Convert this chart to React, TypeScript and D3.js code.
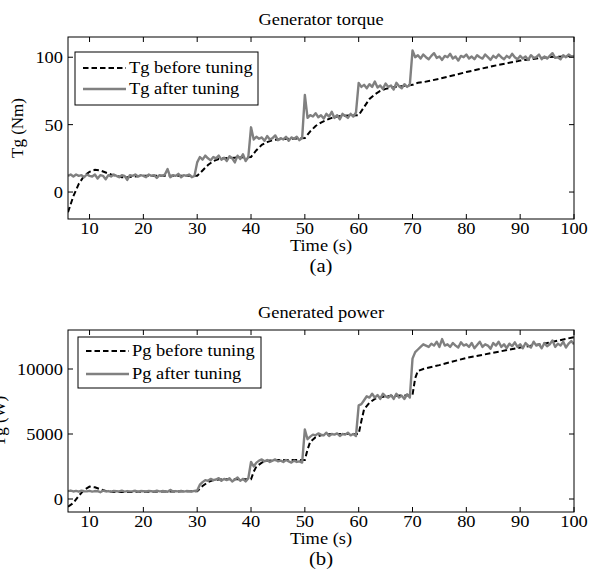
import React from "react";
import * as d3 from "d3";

// time breaks where the set-point changes (s)
const timeBreaks = [6, 30, 40, 50, 60, 70, 100];
const xTicks = [10, 20, 30, 40, 50, 60, 70, 80, 90, 100];

// ---- Generator torque (Nm) ----
const tgBeforeTime = [6, 7, 8, 9, 10, 11, 12, 13, 14, 15, 16, 17, 20, 25, 30, 31, 32, 33, 34, 35, 37, 40, 41, 42, 43, 44, 45, 47, 50, 51, 52, 53, 54, 55, 56, 57, 60, 61, 62, 63, 64, 65, 66, 67, 70, 71, 72, 75, 80, 85, 90, 95, 100];
const tgBeforeValue = [-15, -3, 6, 12, 15, 16.5, 16, 14.5, 13, 12, 11, 11, 12, 12, 12, 16, 20, 23, 24.5, 25, 25.5, 26, 31, 35, 37, 38.5, 39, 39.5, 40, 45, 49, 51.5, 53.5, 55, 56, 56.5, 57, 63, 69, 72.5, 75, 76.5, 77.5, 78, 79.5, 81, 81.5, 84, 89, 93.5, 97.5, 100, 101];

// after tuning, one list per set-point segment (0.5 s apart)
const tgAfter = [
  [12, 13, 11.5, 13, 12, 12.5, 11, 13, 12, 11.5, 13, 10, 12.5, 12, 9.5, 12.5, 11.5, 13, 12, 11, 12.5, 12, 9, 12.5, 12, 13, 11.5, 12.5, 12, 11, 13, 12, 12.5, 10.5, 12.5, 12, 13, 17, 11, 12.5, 12, 13.5, 11, 12.5, 12, 13, 11, 12],
  [22, 26, 24, 27, 25, 23.5, 26, 25, 27, 24, 25.5, 23, 26.5, 25, 22, 27, 24.5, 28, 23, 26],
  [48, 39, 41, 39.5, 40.5, 38, 41.5, 39, 40, 42, 38.5, 40, 39, 41, 38, 40.5, 39.5, 41, 38.5, 40],
  [72, 55, 57, 56, 58.5, 55.5, 57, 54.5, 58, 56, 59.5, 55, 57, 54, 58, 56.5, 55, 58, 56, 59],
  [81, 78, 79.5, 77, 80, 78, 82, 77.5, 79, 76.5, 80.5, 78, 79, 76, 81, 78.5, 77, 80, 78, 79.5],
  [105, 100, 101.5, 99, 102, 100, 98.5, 101, 103, 99.5, 100.5, 98, 101, 100, 102.5, 99, 100.5, 97.5, 101, 100, 102, 99, 100.5, 98.5, 101.5, 100, 99, 102, 100, 98, 101, 99.5, 102, 100, 98.5, 101, 99.5, 102.5, 100, 98.5, 101, 99, 100.5, 98, 101.5, 99.5, 100, 102, 98.5, 100.5, 99, 101, 103, 99.5, 100, 98.5, 101.5, 100, 102, 100.5, 101],
];

// ---- Generated power (W) ----
const pgBeforeTime = [6, 7, 8, 9, 10, 11, 12, 13, 14, 15, 17, 20, 25, 30, 31, 32, 33, 34, 36, 40, 40.5, 41, 42, 43, 45, 50, 50.5, 51, 52, 53, 55, 60, 60.5, 61, 62, 63, 65, 70, 70.5, 71, 72, 75, 80, 85, 90, 95, 100];
const pgBeforeValue = [-600, -300, 250, 700, 950, 900, 750, 620, 560, 540, 540, 560, 580, 600, 1000, 1300, 1450, 1500, 1520, 1520, 2100, 2500, 2800, 2950, 3000, 3000, 3800, 4400, 4750, 4900, 5000, 5000, 6000, 6900, 7400, 7700, 7900, 8000, 9300, 9850, 10000, 10300, 10850, 11250, 11650, 12000, 12450];

const pgAfter = [
  [600, 650, 580, 620, 560, 640, 600, 590, 630, 570, 610, 600, 520, 640, 590, 610, 560, 620, 600, 580, 640, 570, 610, 590, 600, 630, 560, 610, 600, 580, 620, 600, 570, 640, 590, 610, 600, 560, 700, 580, 610, 590, 630, 570, 610, 600, 580, 620],
  [650, 1100, 1300, 1450, 1400, 1550, 1450, 1500, 1600, 1400, 1550, 1450, 1600, 1350, 1500, 1650, 1400, 1550, 1350, 1600],
  [2850, 2500, 2800, 2950, 3050, 2900, 3000, 2850, 2950, 3050, 2900, 2950, 2850, 3000, 2900, 2800, 2950, 2850, 2900, 2800],
  [5350, 4600, 4800, 4950, 4900, 5050, 4950, 4900, 5100, 4850, 5000, 4950, 5050, 4850, 5000, 4950, 5100, 4900, 5000, 4850],
  [7200, 7300, 7600, 7900, 7800, 8100, 7800, 8000, 7700, 8100, 7900, 7800, 8000, 7700, 8100, 7800, 7950, 7700, 8050, 7800],
  [10800, 11300, 11500, 11700, 11900, 11800, 11700, 11950, 11800, 12100, 11700, 12300, 11800, 11900, 11700, 12000, 11800, 11650, 12050, 11800, 11900, 11700, 12000, 11600, 11850, 12100, 11700, 11900, 11800, 11550, 12000, 11800, 12100, 11700, 11900, 11600, 11950, 11750, 12050, 11700, 11900, 11600, 12000, 11800, 11650, 12100, 11800, 11900, 11600, 12000, 11750, 11900, 12200, 11700, 11950, 11800, 12100, 11650, 11950, 12150, 11900],
];

const W = 591;
const H = 587;
const FONT = "'Liberation Serif', 'Times New Roman', serif";
const SX = 1.15; // the picture's text is a bit wide

type Pt = [number, number];

// spread each segment's samples evenly between its break times
const spread = (segs: number[][]): Pt[] => {
  const out: Pt[] = [];
  segs.forEach((vals, k) => {
    const t0 = timeBreaks[k];
    const t1 = timeBreaks[k + 1];
    const last = k === segs.length - 1;
    const step = (t1 - t0) / (last ? vals.length - 1 : vals.length);
    vals.forEach((v, i) => out.push([t0 + i * step, v]));
  });
  return out;
};

const zip = (t: number[], v: number[]): Pt[] => t.map((d, i) => [d, v[i]]);

const Txt = ({ x, y, children, anchor = "middle", size = 16 }: any) => (
  <text
    transform={`translate(${x},${y}) scale(${SX},1)`}
    textAnchor={anchor}
    fontFamily={FONT}
    fontSize={size}
    fill="#000"
  >
    {children}
  </text>
);

const Panel = ({ id, top, bottom, yDomain, yTicks, before, after, title, ylabel, ylabelX, names, legend, tag }: any) => {
  const x = d3.scaleLinear().domain([6, 100]).range([68, 574]);
  const y = d3.scaleLinear().domain(yDomain).range([bottom, top]);
  const line = d3.line<Pt>().x((d) => x(d[0])).y((d) => y(d[1]));
  const tick = 5;
  const [lx, ly, lw, lh, rowGap] = legend;

  return (
    <g>
      <defs>
        <clipPath id={id}>
          <rect x={68} y={top} width={574 - 68} height={bottom - top} />
        </clipPath>
      </defs>
      <Txt x={(68 + 574) / 2} y={top - 12}>{title}</Txt>

      <g clipPath={`url(#${id})`}>
        <path d={line(before) || ""} fill="none" stroke="#000" strokeWidth={2} strokeDasharray="5.5,3" />
        <path d={line(after) || ""} fill="none" stroke="#808080" strokeWidth={2.4} strokeLinejoin="round" />
      </g>

      <rect x={68} y={top} width={574 - 68} height={bottom - top} fill="none" stroke="#000" strokeWidth={1} />

      {xTicks.map((t) => (
        <g key={"x" + t}>
          <line x1={x(t)} x2={x(t)} y1={bottom} y2={bottom - tick} stroke="#000" />
          <line x1={x(t)} x2={x(t)} y1={top} y2={top + tick} stroke="#000" />
          <Txt x={x(t)} y={bottom + 15}>{t}</Txt>
        </g>
      ))}
      {yTicks.map((t: number) => (
        <g key={"y" + t}>
          <line x1={68} x2={68 + tick} y1={y(t)} y2={y(t)} stroke="#000" />
          <line x1={574} x2={574 - tick} y1={y(t)} y2={y(t)} stroke="#000" />
          <Txt x={63} y={y(t) + 6} anchor="end">{t}</Txt>
        </g>
      ))}

      <text
        transform={`translate(${ylabelX},${(top + bottom) / 2}) rotate(-90)`}
        textAnchor="middle"
        fontFamily={FONT}
        fontSize={17}
        fill="#000"
      >
        {ylabel}
      </text>
      <Txt x={(68 + 574) / 2} y={bottom + 32}>Time (s)</Txt>
      <Txt x={(68 + 574) / 2} y={bottom + 53} size={18}>{tag}</Txt>

      <g transform={`translate(${lx},${ly})`}>
        <rect width={lw} height={lh} fill="#fff" stroke="#000" strokeWidth={1} />
        <line x1={8} x2={51} y1={lh / 2 - rowGap / 2} y2={lh / 2 - rowGap / 2} stroke="#000" strokeWidth={2} strokeDasharray="5.5,3" />
        <line x1={8} x2={51} y1={lh / 2 + rowGap / 2} y2={lh / 2 + rowGap / 2} stroke="#808080" strokeWidth={2.4} />
        <Txt x={54} y={lh / 2 - rowGap / 2 + 5} anchor="start">{names[0]}</Txt>
        <Txt x={54} y={lh / 2 + rowGap / 2 + 5} anchor="start">{names[1]}</Txt>
      </g>
    </g>
  );
};

export default function App() {
  return (
    <svg
      width={W}
      height={H}
      viewBox={`0 0 ${W} ${H}`}
      style={{ position: "absolute", left: 0, top: 0, background: "#fff" }}
    >
      <Panel
        id="clipA"
        top={37}
        bottom={219}
        yDomain={[-20, 115]}
        yTicks={[0, 50, 100]}
        before={zip(tgBeforeTime, tgBeforeValue)}
        after={spread(tgAfter)}
        title="Generator torque"
        ylabel="Tg (Nm)"
        ylabelX={23}
        names={["Tg before tuning", "Tg after tuning"]}
        legend={[75, 52, 183, 53, 21]}
        tag="(a)"
      />
      <Panel
        id="clipB"
        top={330}
        bottom={512}
        yDomain={[-1000, 13000]}
        yTicks={[0, 5000, 10000]}
        before={zip(pgBeforeTime, pgBeforeValue)}
        after={spread(pgAfter)}
        title="Generated power"
        ylabel="Tg (W)"
        ylabelX={5}
        names={["Pg before tuning", "Pg after tuning"]}
        legend={[78, 337, 183, 51, 23]}
        tag="(b)"
      />
    </svg>
  );
}
